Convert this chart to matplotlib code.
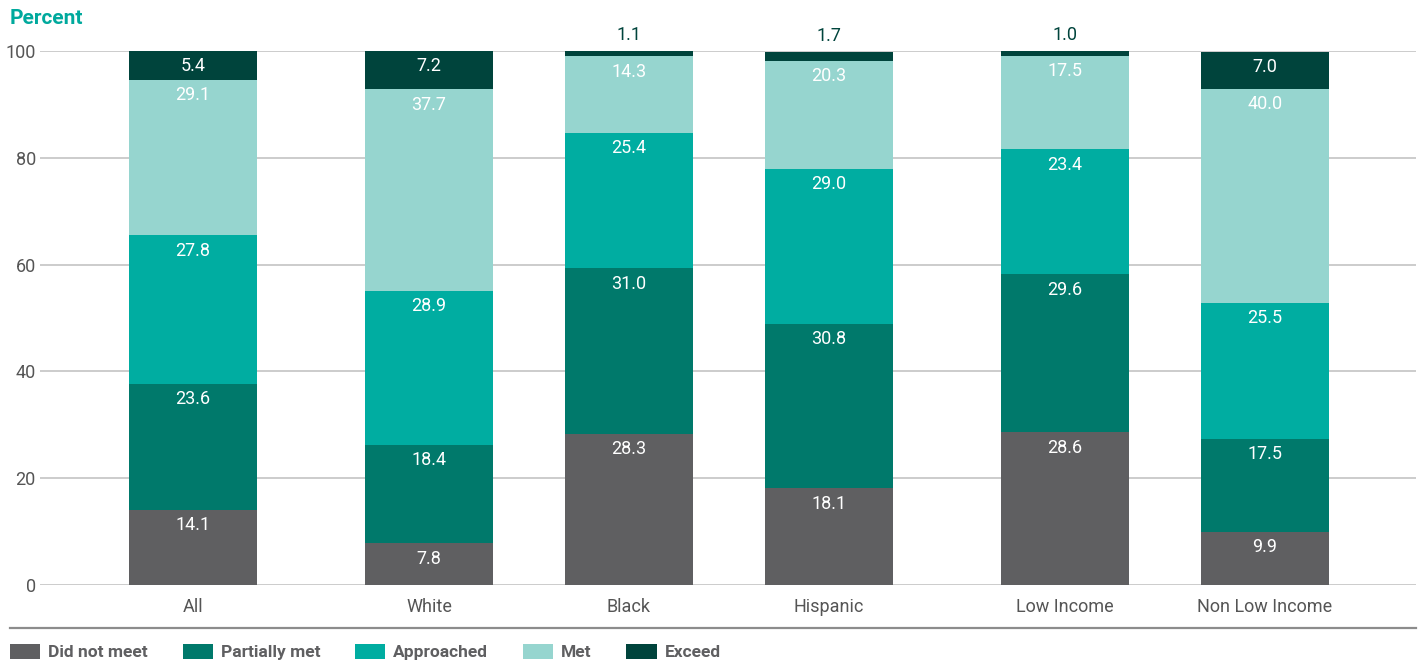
import numpy as np
import matplotlib.pyplot as plt
from matplotlib.patches import Patch
from matplotlib.lines import Line2D

plt.rcParams['font.family'] = ['Roboto', 'DejaVu Sans']

groups = ['All', 'White', 'Black', 'Hispanic', 'Low Income', 'Non Low Income']
levels = ['Did not meet', 'Partially met', 'Approached', 'Met', 'Exceed']

did_not_meet = [14.1, 7.8, 28.3, 18.1, 28.6, 9.9]
partially_met = [23.6, 18.4, 31.0, 30.8, 29.6, 17.5]
approached = [27.8, 28.9, 25.4, 29.0, 23.4, 25.5]
met = [29.1, 37.7, 14.3, 20.3, 17.5, 40.0]
exceed = [5.4, 7.2, 1.1, 1.7, 1.0, 7.0]

series = [did_not_meet, partially_met, approached, met, exceed]
colors = ['#5f5f61', '#00796b', '#00ada1', '#96d5cf', '#00443c']

# extra space between the overall bar, the race bars and the income bars
gap = np.array([0, 0.18, 0.18, 0.18, 0.36, 0.36])
x = np.arange(len(groups)) + gap

fig = plt.figure(figsize=(14.26, 6.62), dpi=100)
ax = fig.add_axes([0.028, 0.1163, 0.965, 0.8066])

bottom = np.zeros(len(groups))
for vals, col, name in zip(series, colors, levels):
    vals = np.array(vals)
    ax.bar(x, vals, width=0.64, bottom=bottom, color=col, label=name, zorder=3)
    tops = bottom + vals
    for xi, top, v in zip(x, tops, vals):
        if v < 2:
            # thin segments get their label above the bar
            ax.annotate(f'{v:.1f}', (xi, top), xytext=(0, 11), textcoords='offset points',
                        ha='center', va='center', fontsize=13, color='#00443c',
                        zorder=4, annotation_clip=False)
        else:
            ax.annotate(f'{v:.1f}', (xi, top), xytext=(0, -11), textcoords='offset points',
                        ha='center', va='center', fontsize=13, color='white',
                        zorder=4, annotation_clip=False)
    bottom = tops

ax.set_ylim(0, 100)
ax.set_xlim(-0.765, 6.115)
ax.set_yticks([0, 20, 40, 60, 80, 100])
ax.set_xticks(x)
ax.set_xticklabels(groups)
ax.yaxis.grid(True, color='#c4c4c4', linewidth=1.2, zorder=0)
ax.tick_params(axis='both', length=0, labelsize=13, colors='#555555')
ax.tick_params(axis='x', pad=9)
ax.tick_params(axis='y', pad=3)
for s in ax.spines.values():
    s.set_visible(False)

fig.text(0.007, 0.972, 'Percent', fontsize=15, fontweight='bold', color='#00a99d',
         ha='left', va='center')

# separator line above the legend
fig.add_artist(Line2D([0.007, 0.993], [1 - 628 / 662, 1 - 628 / 662], transform=fig.transFigure,
                      color='#8c8c8c', linewidth=1.6))

handles = [Patch(facecolor=c, label=l) for c, l in zip(colors, levels)]
leg = fig.legend(handles=handles, loc='center left', bbox_to_anchor=(0.007, 1 - 652 / 662),
                 ncol=5, frameon=False, handlelength=1.75, handleheight=1.0,
                 handletextpad=0.45, columnspacing=2.0, fontsize=12.5,
                 borderpad=0, borderaxespad=0)
for t in leg.get_texts():
    t.set_color('#5f5f61')
    t.set_fontweight('bold')

fig.savefig('out.png', dpi=100)
